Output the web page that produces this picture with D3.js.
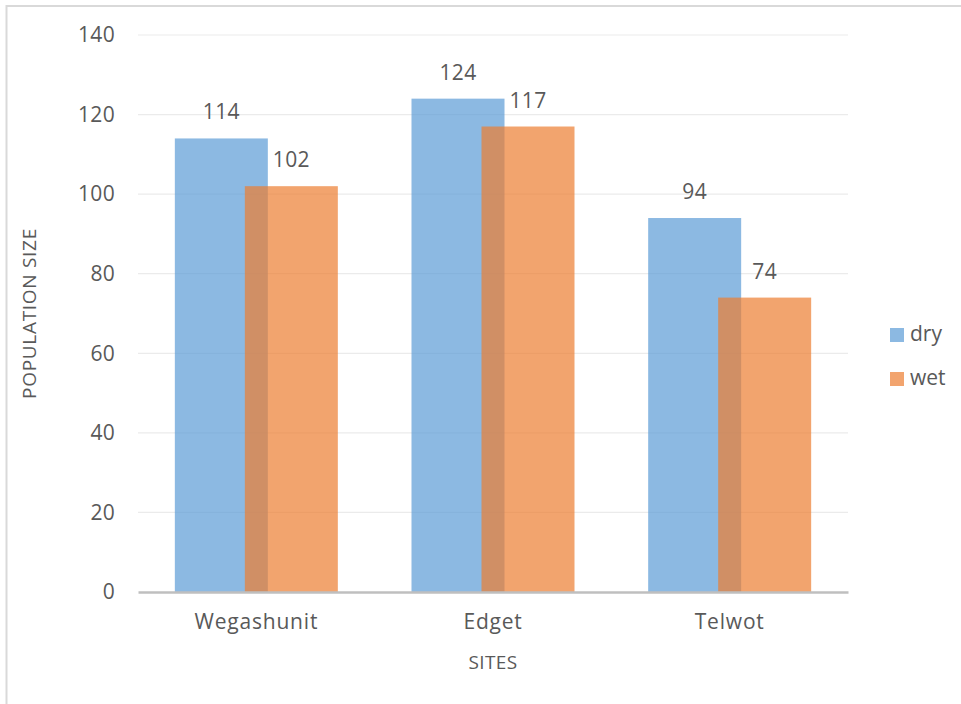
<!DOCTYPE html>
<html lang="en">
<head>
<meta charset="UTF-8">
<title>Population size by site</title>
<script src="https://cdn.jsdelivr.net/npm/d3@7"></script>
<style>
  body { margin: 0; background: #fff; }
  text { font-family: "Open Sans", sans-serif; fill: #595959; }
</style>
</head>
<body>
<svg width="961" height="704"></svg>
<script>
// data
var sites = ["Wegashunit", "Edget", "Telwot"];
var seriesNames = ["dry", "wet"];
var dry = [114, 124, 94];
var wet = [102, 117, 74];
var yTicks = [0, 20, 40, 60, 80, 100, 120, 140];

var colors = { dry: "rgb(91,155,213)", wet: "rgb(237,125,49)" };

var svg = d3.select("svg");
var marge = { top: 35, left: 138, right: 113, bottom: 112 };
var width = 961, height = 704;
var innerW = width - marge.left - marge.right;   // 710
var innerH = height - marge.top - marge.bottom;  // 557

// outer frame
svg.append("rect")
    .attr("x", 6.5).attr("y", 6)
    .attr("width", 970).attr("height", 720)
    .attr("fill", "none")
    .attr("stroke", "#d9d9d9")
    .attr("stroke-width", 2);

var g = svg.append("g")
    .attr("transform", "translate(" + marge.left + "," + marge.top + ")");

var xScale = d3.scaleBand()
    .domain(sites)
    .range([0, innerW]);

var yScale = d3.scaleLinear()
    .domain([0, 140])
    .range([innerH, 0]);

// gridlines
g.append("g")
    .selectAll("line")
    .data(yTicks.slice(1))
    .enter()
    .append("line")
    .attr("x1", 0).attr("x2", innerW)
    .attr("y1", function(d){ return yScale(d); })
    .attr("y2", function(d){ return yScale(d); })
    .attr("stroke", "#ebebeb")
    .attr("stroke-width", 1.2);

// y axis
var yAxis = d3.axisLeft(yScale).tickValues(yTicks).tickSize(0).tickPadding(23);
var yg = g.append("g").call(yAxis);
yg.select(".domain").remove();
yg.selectAll("text").style("font-size", "21px").style("letter-spacing", "0.3px").attr("fill", "#595959");

// bars
var barW = 93, shift = 70;
var groupW = barW + shift;
function barX(site, k) {
    return xScale(site) + xScale.bandwidth() / 2 - groupW / 2 + k * shift;
}

var series = [
    { name: "dry", values: dry },
    { name: "wet", values: wet }
];

series.forEach(function(s, k) {
    var sg = g.append("g");
    sg.selectAll("rect")
        .data(s.values)
        .enter()
        .append("rect")
        .attr("x", function(d, i){ return barX(sites[i], k); })
        .attr("y", function(d){ return yScale(d); })
        .attr("width", barW)
        .attr("height", function(d){ return innerH - yScale(d); })
        .attr("fill", colors[s.name])
        .attr("fill-opacity", 0.7);
    sg.selectAll("text")
        .data(s.values)
        .enter()
        .append("text")
        .attr("x", function(d, i){ return barX(sites[i], k) + barW / 2; })
        .attr("y", function(d){ return yScale(d) - 19; })
        .attr("text-anchor", "middle")
        .style("font-size", "21px")
        .style("letter-spacing", "0.3px")
        .attr("fill", "#404040")
        .text(function(d){ return d; });
});

// x axis
var xAxis = d3.axisBottom(xScale).tickSize(0).tickPadding(22);
var xg = g.append("g")
    .attr("transform", "translate(0," + innerH + ")")
    .call(xAxis);
xg.select(".domain").attr("stroke", "#bfbfbf").attr("stroke-width", 2.5);
xg.selectAll("text").style("font-size", "21px").style("letter-spacing", "0.8px").attr("fill", "#595959");

// axis titles
svg.append("text")
    .attr("x", marge.left + innerW / 2)
    .attr("y", 669)
    .attr("text-anchor", "middle")
    .style("font-size", "19px")
    .style("letter-spacing", "0.4px")
    .text("SITES");

svg.append("text")
    .attr("transform", "translate(36," + (marge.top + innerH / 2) + ") rotate(-90)")
    .attr("text-anchor", "middle")
    .style("font-size", "19px")
    .style("letter-spacing", "0.7px")
    .text("POPULATION SIZE");

// legend
var legend = svg.append("g").attr("transform", "translate(890,328)");
var items = legend.selectAll("g")
    .data(seriesNames)
    .enter()
    .append("g")
    .attr("transform", function(d, i){ return "translate(0," + (i * 44) + ")"; });
items.append("rect")
    .attr("width", 14).attr("height", 14)
    .attr("fill", function(d){ return colors[d]; })
    .attr("fill-opacity", 0.7);
items.append("text")
    .attr("x", 20).attr("y", 13)
    .style("font-size", "21px")
    .text(function(d){ return d; });
</script>
</body>
</html>
